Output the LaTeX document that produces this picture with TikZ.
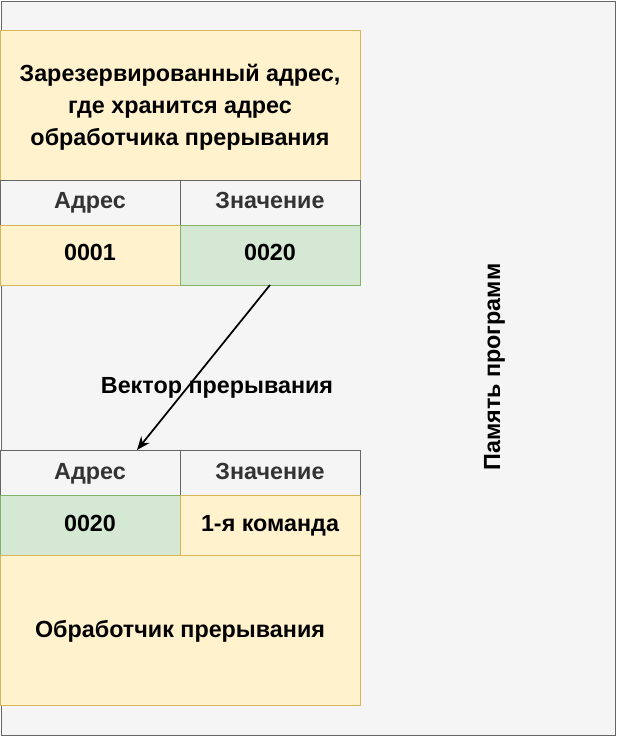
\documentclass[tikz,border=0pt]{standalone}
\usepackage{fontspec}
\setmainfont{Liberation Sans}
\usetikzlibrary{arrows.meta}
\definecolor{yf}{HTML}{FFF2CC}\definecolor{ys}{HTML}{D6B656}
\definecolor{gf}{HTML}{D5E8D4}\definecolor{gs}{HTML}{82B366}
\definecolor{hf}{HTML}{F5F5F5}\definecolor{hs}{HTML}{666666}
\definecolor{ht}{HTML}{333333}
\begin{document}
\begin{tikzpicture}[x=0.75pt,y=-0.75pt,
 txt/.style={font=\fontsize{17.5}{24}\selectfont\bfseries,align=center,text height=12pt,text depth=3pt},
 yel/.style={draw=ys,fill=yf},grn/.style={draw=gs,fill=gf},hdr/.style={draw=hs,fill=hf}]
\useasboundingbox (0,0) rectangle (617,737);
\draw[hdr] (1,1) rectangle (615,735);
\node[txt,rotate=90] (mem) at (494,367) {Память программ};
\draw[yel] (0,30) rectangle (360,180);
\node[txt,text height=,text depth=] (res) at (180,107) {Зарезервированный адрес,\\где хранится адрес\\обработчика прерывания};
\draw[hdr] (0,180) rectangle (180,225); \node[txt,text=ht] (a1) at (90,203) {Адрес};
\draw[hdr] (180,180) rectangle (360,225); \node[txt,text=ht] (z1) at (270,203) {Значение};
\draw[yel] (0,225) rectangle (180,285); \node[txt] (k1) at (90,255) {0001};
\draw[grn] (180,225) rectangle (360,285); \node[txt] (v1) at (270,255) {0020};
\coordinate (s) at (270,285); \coordinate (t) at (137,450);
\draw[-{Stealth[length=10pt,width=8pt]},line width=1.3pt] (s) -- (t);
\node[txt] (vec) at (217,387) {Вектор прерывания};
\draw[hdr] (0,450) rectangle (180,495); \node[txt,text=ht] (a2) at (90,473) {Адрес};
\draw[hdr] (180,450) rectangle (360,495); \node[txt,text=ht] (z2) at (270,473) {Значение};
\draw[grn] (0,495) rectangle (180,555); \node[txt] (k2) at (90,525) {0020};
\draw[yel] (180,495) rectangle (360,555); \node[txt] (v2) at (270,525) {1-я команда};
\draw[yel] (0,555) rectangle (360,705); \node[txt] (h) at (180,631) {Обработчик прерывания};
\end{tikzpicture}
\end{document}
